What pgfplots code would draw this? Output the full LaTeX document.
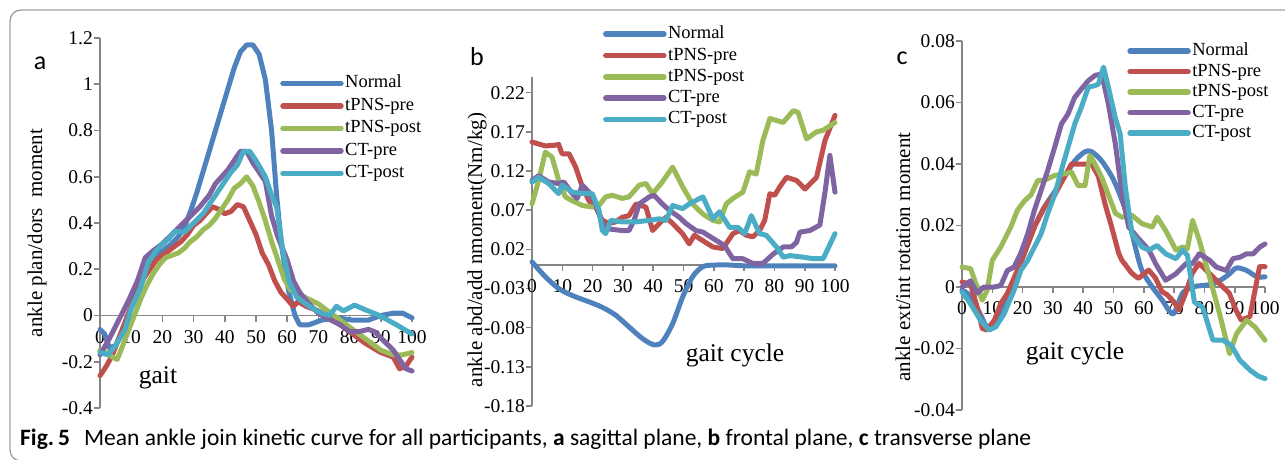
\documentclass[border=0pt]{standalone}
\usepackage{fontspec}
\setmainfont{Liberation Serif}
\newfontfamily\capfont{Carlito}
\usepackage{pgfplots}
\pgfplotsset{compat=1.18}
\definecolor{cN}{HTML}{4F81BD}
\definecolor{cTP}{HTML}{C0504D}
\definecolor{cTQ}{HTML}{9BBB59}
\definecolor{cCP}{HTML}{8064A2}
\definecolor{cCQ}{HTML}{4BACC6}
\definecolor{axgray}{HTML}{868686}
\pgfplotsset{
 panel/.style={
  scale only axis, clip=false,
  axis x line=middle, axis y line=left,
  axis line style={-, axgray, line width=1.6pt},
  every tick/.style={axgray, line width=1.6pt},
  major tick length=6pt,
  tick align=outside,
  xmin=0, xmax=100,
  xtick={0,10,...,100},
  xticklabels={0,10,20,30,40,50,60,70,80,90,100},
  scaled y ticks=false, scaled x ticks=false,
  hide obscured x ticks=false, hide obscured y ticks=false,
  tick label style={font=\fontsize{19.5}{20}\selectfont},
  yticklabel style={inner sep=1pt},
  xticklabel style={yshift=-5pt},
  /pgf/number format/assume math mode=true,
  minor tick num=0,
  anchor=south west,
  legend cell align=left,
  legend image code/.code={\draw[##1, line width=5.5pt, line cap=round] (0pt,0pt) -- (58pt,0pt);},
  every axis plot/.append style={line width=5pt, line join=round, line cap=round, mark=none},
 }
}
\begin{document}
\begin{tikzpicture}
\path[use as bounding box] (0pt,0pt) rectangle (1285pt,-459pt);
\draw[gray!75, line width=1.3pt, rounded corners=11pt] (30pt,-461pt) -- (10pt,-461pt) -- (10pt,-10pt) -- (1295pt,-10pt);

% ---------------- panel a
\begin{axis}[panel, at={(100pt,-408pt)}, width=312pt, height=370pt,
  ymin=-0.4, ymax=1.2,
  ytick={-0.4,-0.2,0,0.2,0.4,0.6,0.8,1,1.2},
  yticklabels={-0.4,-0.2,0,0.2,0.4,0.6,0.8,1,1.2},
  legend style={draw=none, fill=none, at={(0.577,0.905)}, anchor=north west,
    font=\fontsize{18.5}{19}\selectfont, inner sep=0pt, row sep=2.5pt,
    nodes={inner sep=1.5pt, text height=13pt, text depth=4pt}}]
\addplot[cN] coordinates {(0,-0.06)(1.5,-0.08)(3,-0.14)(5,-0.13)(7,-0.07)(9,0.0)(11,0.07)(13,0.14)(15,0.2)(17,0.24)(19,0.27)(21,0.29)(23,0.31)(25,0.34)(27,0.38)(29,0.45)(31,0.53)(33,0.62)(35,0.71)(37,0.8)(39,0.89)(41,0.98)(43,1.07)(45,1.14)(47,1.17)(49,1.17)(51,1.13)(53,1.02)(55,0.8)(56.6,0.52)(58.2,0.3)(60.4,0.11)(62.5,0.0)(64,-0.04)(67,-0.04)(71,-0.02)(76,-0.01)(81,-0.02)(86,-0.02)(90,0.0)(94,0.01)(97,0.01)(100,-0.01)};
\addplot[cTP] coordinates {(0,-0.26)(2,-0.22)(4,-0.17)(6,-0.1)(8,-0.03)(10,0.04)(12,0.1)(14,0.16)(16,0.2)(18,0.24)(20,0.26)(22,0.28)(24,0.3)(26,0.32)(28,0.35)(30,0.39)(32,0.41)(34,0.44)(36,0.47)(38,0.46)(40,0.44)(42,0.45)(44,0.48)(46,0.47)(48,0.41)(50,0.35)(52,0.27)(54,0.22)(56,0.15)(58,0.1)(60,0.07)(62,0.04)(63.5,0.06)(66,0.04)(70,0.02)(75,-0.02)(80,-0.07)(85,-0.12)(90,-0.16)(94,-0.18)(96,-0.23)(98,-0.22)(100,-0.18)};
\addplot[cTQ] coordinates {(0,-0.15)(2,-0.16)(4,-0.18)(5.5,-0.19)(7,-0.14)(9,-0.07)(11,0.0)(13,0.07)(15,0.13)(17,0.18)(19,0.22)(21,0.25)(23,0.26)(25,0.27)(27,0.29)(29,0.32)(31,0.34)(33,0.37)(35,0.39)(37,0.42)(39,0.46)(41,0.5)(43,0.55)(45,0.57)(47,0.6)(49,0.56)(51,0.49)(53,0.41)(55,0.32)(57,0.24)(59,0.16)(61,0.11)(64,0.09)(67,0.07)(70,0.05)(73,0.02)(76,-0.01)(80,-0.05)(85,-0.1)(90,-0.15)(94,-0.17)(97,-0.17)(100,-0.16)};
\addplot[cCP] coordinates {(0,-0.17)(3,-0.1)(6,-0.02)(9,0.06)(12,0.15)(14.5,0.25)(17,0.28)(20,0.31)(23,0.35)(26,0.39)(29,0.43)(32,0.47)(35,0.52)(37,0.57)(39,0.6)(41,0.63)(43,0.67)(45,0.71)(47,0.71)(49,0.66)(51,0.62)(53,0.58)(55,0.43)(57,0.34)(60,0.24)(62,0.15)(64,0.1)(67,0.05)(70,0.01)(74,-0.02)(77,-0.04)(80,-0.07)(83,-0.07)(86,-0.06)(88,-0.07)(91,-0.11)(94,-0.15)(96.5,-0.2)(98,-0.23)(100,-0.24)};
\addplot[cCQ] coordinates {(0,-0.16)(2.5,-0.17)(5,-0.13)(8,-0.06)(10,0.03)(13,0.12)(15.5,0.23)(18,0.28)(20,0.31)(22,0.33)(24,0.365)(27,0.36)(30,0.4)(33,0.44)(36,0.5)(39,0.56)(42,0.62)(44,0.65)(46,0.71)(48,0.71)(50,0.67)(53,0.6)(55,0.52)(56.6,0.47)(58.7,0.27)(60.8,0.14)(63,0.08)(67,0.04)(71,0.01)(73.6,0.0)(75.8,0.04)(78,0.02)(81.6,0.045)(85,0.025)(89.6,0.0)(95,-0.04)(100,-0.08)};
\legend{Normal,tPNS-pre,tPNS-post,CT-pre,CT-post}
\end{axis}

% ---------------- panel b
\begin{axis}[panel, at={(532pt,-406pt)}, width=303pt, height=329pt,
  ymin=-0.18, ymax=0.24,
  ytick={-0.18,-0.13,-0.08,-0.03,0.02,0.07,0.12,0.17,0.22},
  yticklabels={-0.18,-0.13,-0.08,-0.03,0.02,0.07,0.12,0.17,0.22},
  legend style={draw=none, fill=none, at={(0.234,1.161)}, anchor=north west,
    font=\fontsize{18.5}{19}\selectfont, inner sep=0pt, row sep=1.3pt,
    nodes={inner sep=1.5pt, text height=13pt, text depth=4pt}}]
\addplot[cN, smooth, tension=0.5] coordinates {(0,0.004)(4.4,-0.015)(8.8,-0.03)(13.3,-0.039)(18.8,-0.047)(23.2,-0.054)(27.6,-0.064)(32,-0.079)(36.5,-0.094)(40.3,-0.102)(43,-0.098)(46.4,-0.075)(49.7,-0.041)(53,-0.015)(56.4,-0.002)(60.8,0.0)(65,0.0)(70,-0.001)(80,-0.001)(90,-0.001)(100,-0.001)};
\addplot[cTP] coordinates {(0,0.157)(4.4,0.152)(7.7,0.153)(8.8,0.154)(9.9,0.142)(12.2,0.142)(14.4,0.125)(16.6,0.1)(18.8,0.082)(21,0.074)(23.2,0.057)(25.4,0.053)(27.6,0.055)(29.8,0.061)(32,0.063)(34.3,0.078)(37.6,0.074)(39.8,0.044)(42,0.053)(44.2,0.061)(46.4,0.053)(49.7,0.04)(51.9,0.027)(53.6,0.038)(56.4,0.031)(59.7,0.023)(63,0.021)(66.3,0.04)(68.5,0.044)(70.7,0.038)(72.9,0.036)(75.1,0.044)(76.8,0.057)(78.5,0.091)(80.1,0.089)(81.8,0.1)(84,0.112)(87.3,0.108)(90.1,0.097)(93.9,0.112)(96.7,0.159)(100,0.191)};
\addplot[cTQ] coordinates {(0,0.078)(2.2,0.108)(4.4,0.144)(6.6,0.138)(8.8,0.108)(11,0.087)(13.3,0.082)(16.6,0.076)(19.9,0.074)(22.1,0.076)(24.3,0.087)(26.5,0.089)(29.8,0.085)(32,0.087)(35.4,0.102)(37.6,0.104)(39.8,0.091)(43,0.106)(46.4,0.125)(49.7,0.1)(53,0.078)(56.4,0.065)(59.7,0.057)(61.9,0.055)(64.1,0.078)(66.3,0.085)(69.6,0.093)(71.8,0.119)(74,0.116)(76.2,0.159)(78.5,0.187)(82.9,0.182)(86.2,0.197)(87.8,0.195)(90.6,0.161)(93.9,0.17)(96.1,0.172)(100,0.182)};
\addplot[cCP] coordinates {(0,0.108)(2.2,0.114)(5.5,0.106)(8.8,0.104)(10.5,0.106)(13.3,0.091)(14.9,0.085)(16.6,0.102)(18.8,0.093)(21,0.078)(23.2,0.053)(25.4,0.046)(29.8,0.044)(32,0.044)(33.7,0.057)(35.4,0.078)(38.7,0.087)(40.3,0.089)(43,0.078)(45.3,0.07)(48.6,0.061)(50.8,0.053)(54.1,0.044)(56.4,0.042)(59.7,0.034)(63.5,0.025)(66.3,0.008)(69.6,0.008)(72.9,0.002)(76.2,0.002)(79.6,0.014)(82.9,0.023)(85.6,0.023)(87.3,0.029)(88.4,0.042)(91.7,0.044)(95,0.051)(96.7,0.093)(98.3,0.14)(100,0.093)};
\addplot[cCQ] coordinates {(0,0.106)(2.2,0.112)(5.5,0.104)(8.8,0.091)(9.9,0.102)(13.3,0.093)(17.7,0.091)(19.9,0.091)(22.1,0.07)(23.2,0.044)(24.3,0.04)(26,0.057)(29.8,0.055)(34.3,0.055)(38.7,0.057)(42,0.059)(44.2,0.057)(46.4,0.076)(49.7,0.072)(51.9,0.078)(56.4,0.087)(59.7,0.059)(61.9,0.068)(65.2,0.048)(68,0.048)(70.2,0.04)(72.4,0.063)(75.1,0.04)(77.3,0.038)(80.7,0.023)(82.9,0.01)(85.1,0.012)(89.5,0.01)(92.8,0.008)(96.1,0.008)(100,0.04)};
\legend{Normal,tPNS-pre,tPNS-post,CT-pre,CT-post}
\end{axis}

% ---------------- panel c
\begin{axis}[panel, at={(962pt,-410pt)}, width=303pt, height=369pt,
  ymin=-0.04, ymax=0.08,
  ytick={-0.04,-0.02,0,0.02,0.04,0.06,0.08},
  yticklabels={-0.04,-0.02,0,0.02,0.04,0.06,0.08},
  legend style={draw=none, fill=none, at={(0.545,1.0)}, anchor=north west,
    font=\fontsize{18.5}{19}\selectfont, inner sep=0pt, row sep=0.5pt,
    nodes={inner sep=1.5pt, text height=13pt, text depth=4pt}}]
\addplot[cN, smooth, tension=0.5] coordinates {(0,-0.001)(2.8,-0.003)(6.1,-0.009)(8.3,-0.013)(10.6,-0.011)(13.9,-0.0065)(17.2,0.002)(20.6,0.011)(23.9,0.0195)(27.2,0.026)(30.6,0.031)(33.9,0.036)(37.2,0.041)(40.6,0.044)(42.8,0.044)(46.1,0.041)(49.4,0.036)(51.7,0.031)(55,0.022)(57.2,0.013)(59.4,0.0054)(62.8,0.0)(66.1,-0.0043)(68.3,-0.0076)(70,-0.0085)(72.8,-0.002)(76.1,0.0)(79.4,0.0005)(82.8,0.001)(86.1,0.0027)(88.3,0.0043)(90.6,0.0062)(93.9,0.0054)(97.2,0.0034)(100,0.0033)};
\addplot[cTP] coordinates {(0,0.0016)(2.8,0.001)(5,-0.0065)(6.7,-0.0135)(8.3,-0.014)(10.6,-0.011)(12.8,-0.0054)(15,-0.002)(17.2,0.003)(20.6,0.011)(23.9,0.0195)(27.2,0.026)(30.6,0.030)(33.9,0.036)(36.1,0.040)(40.6,0.040)(42.8,0.040)(45,0.036)(47.2,0.027)(49.4,0.0195)(51.7,0.011)(52.7,0.0088)(56,0.0045)(58.2,0.0028)(61.6,0.0055)(63.8,0.003)(66,-0.0015)(67.7,-0.0025)(69.9,-0.0048)(71.6,-0.0075)(73.8,-0.002)(76,0.0045)(78.2,0.0077)(81.6,0.0045)(84.9,0.0012)(88.2,-0.002)(90.4,-0.0075)(92.1,-0.0107)(95,-0.0097)(98.2,0.0066)(100,0.0066)};
\addplot[cTQ] coordinates {(0,0.0065)(2.8,0.006)(5,0.0)(6.7,-0.0043)(8.3,-0.001)(10,0.0087)(12.8,0.013)(16.1,0.0195)(18.3,0.025)(20.6,0.028)(22.8,0.030)(25,0.0347)(27.2,0.0347)(30.6,0.0363)(33.9,0.0368)(36.1,0.0374)(38.3,0.033)(40.6,0.033)(42.2,0.0428)(43.9,0.040)(46.1,0.0357)(48.3,0.030)(50.6,0.024)(52.8,0.0227)(56.1,0.0233)(59.4,0.0206)(62.8,0.0195)(64.4,0.0227)(67.2,0.0184)(70.6,0.012)(72.8,0.013)(74.4,0.0125)(76.1,0.0217)(78.3,0.0152)(81.7,0.0032)(85,-0.0087)(88.3,-0.0217)(90.6,-0.0152)(93.9,-0.0108)(96.7,-0.013)(100,-0.0173)};
\addplot[cCP] coordinates {(0,0.0)(2.8,0.002)(5,-0.002)(7.2,0.0)(10.6,0.0)(12.8,0.0005)(15,0.0054)(17.2,0.0065)(19.4,0.011)(21.7,0.0173)(23.9,0.025)(26.1,0.0314)(28.3,0.038)(30.6,0.0455)(32.8,0.053)(35,0.0563)(37.2,0.0617)(39.4,0.0644)(41.7,0.0671)(43.9,0.0688)(46.1,0.0693)(48.3,0.0596)(50.6,0.0466)(52.8,0.0303)(55,0.0195)(58.3,0.0157)(61.7,0.012)(63.9,0.0076)(67.2,0.0022)(70.6,0.0043)(73.9,0.0076)(76.1,0.0076)(78.3,0.0108)(81.7,0.0087)(83.9,0.0065)(87.2,0.0054)(89.4,0.0092)(91.7,0.0097)(93.9,0.0108)(96.1,0.0108)(98.3,0.013)(100,0.014)};
\addplot[cCQ] coordinates {(0,-0.0016)(2.8,-0.0054)(6.1,-0.0108)(8.9,-0.014)(11.1,-0.013)(13.9,-0.0087)(17.2,-0.001)(19.4,0.0054)(21.7,0.0087)(23.9,0.013)(26.1,0.0173)(28.3,0.024)(30.6,0.030)(32.8,0.038)(35,0.0455)(37.2,0.053)(39.4,0.0585)(41.7,0.065)(43.9,0.0655)(45,0.066)(46.7,0.0715)(48.3,0.065)(50.6,0.055)(52.2,0.0498)(53.9,0.0325)(56.1,0.0173)(59.4,0.013)(61.7,0.012)(64.4,0.0135)(67.2,0.0108)(70.6,0.0092)(72.8,0.012)(74.4,0.0103)(76.7,-0.0049)(79.4,-0.0065)(82.8,-0.0173)(86.1,-0.0173)(88.9,-0.019)(91.7,-0.0238)(95,-0.027)(97.8,-0.029)(100,-0.0298)};
\legend{Normal,tPNS-pre,tPNS-post,CT-pre,CT-post}
\end{axis}

% ---------------- labels
\node[rotate=90, font=\fontsize{21}{21}\selectfont] at (37pt,-233pt) {ankle plan/dors\ \ moment};
\node[rotate=90, font=\fontsize{21}{21}\selectfont] at (477pt,-250pt) {ankle abd/add nmoment(Nm/kg)};
\node[rotate=90, font=\fontsize{21}{21}\selectfont] at (903pt,-257pt) {ankle ext/int rotation moment};
\node[font=\fontsize{25.5}{26}\selectfont] at (158pt,-378pt) {gait};
\node[font=\fontsize{25.5}{26}\selectfont] at (735pt,-355pt) {gait cycle};
\node[font=\fontsize{25.5}{26}\selectfont] at (1075pt,-353pt) {gait cycle};
\node[font=\capfont\fontsize{26}{26}\selectfont] at (40pt,-63pt) {a};
\node[font=\capfont\fontsize{26}{26}\selectfont] at (477pt,-57pt) {b};
\node[font=\capfont\fontsize{26}{26}\selectfont] at (902pt,-58pt) {c};
\node[anchor=west, inner sep=0pt, font=\capfont\fontsize{23.5}{24}\selectfont] at (20pt,-439pt) {\textbf{Fig.\,5}\hspace{0.6em}Mean ankle join kinetic curve for all participants, \textbf{a} sagittal plane, \textbf{b} frontal plane, \textbf{c} transverse plane};
\end{tikzpicture}
\end{document}
